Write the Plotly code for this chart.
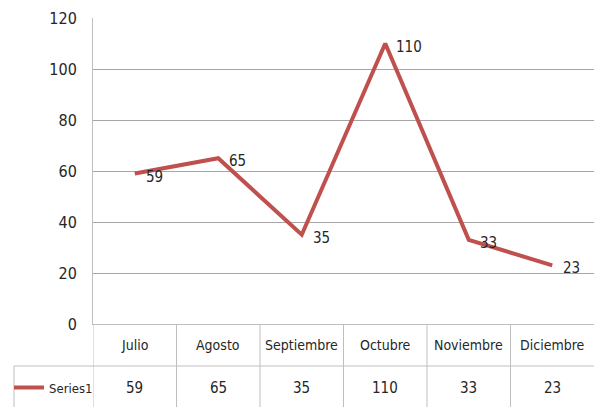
import plotly.graph_objects as go

months = ["Julio", "Agosto", "Septiembre", "Octubre", "Noviembre", "Diciembre"]
values = [59, 65, 35, 110, 33, 23]
series_name = "Series1"
y_ticks = [0, 20, 40, 60, 80, 100, 120]

FONT = "DejaVu Sans Condensed, Liberation Sans Narrow, sans-serif"
FS = 14
RED = "#C0504D"
GRID = "#A6A6A6"
TXT = "#262626"

W, H = 594, 407
ML, MR, MT, MB = 93, 0, 18, 83

fig = go.Figure()
fig.add_trace(go.Scatter(
    x=list(range(len(months))), y=values, mode="lines",
    line=dict(color=RED, width=4), name=series_name, showlegend=True,
))

# data labels
for i, v in enumerate(values):
    fig.add_annotation(x=i, y=v, text=str(v), showarrow=False,
                       xanchor="left", yanchor="middle", xshift=9, yshift=-3,
                       font=dict(family=FONT, size=FS + 1, color=TXT))

plot_h = H - MT - MB
row_h = 42
r1 = -row_h / plot_h            # bottom of category row (paper)
r2 = -(2 * row_h + 1) / plot_h  # bottom of table

# category row and value row text
for i, (m, v) in enumerate(zip(months, values)):
    fig.add_annotation(x=i, y=r1 / 2, yref="paper", yanchor="middle", text=m, showarrow=False,
                       font=dict(family=FONT, size=FS, color=TXT))
    fig.add_annotation(x=i, y=(r1 + r2) / 2, yref="paper", yanchor="middle", text=str(v),
                       showarrow=False, font=dict(family=FONT, size=FS + 1, color=TXT))

# table grid lines
xl = (14 - ML) / (W - ML)
for i in range(len(months)):
    fig.add_shape(type="line", xref="x", yref="paper", x0=i - 0.5, x1=i - 0.5,
                  y0=0, y1=r2 - 0.05, line=dict(color="#BFBFBF", width=1))
fig.add_shape(type="line", xref="paper", yref="paper", x0=xl, x1=1,
              y0=r1, y1=r1, line=dict(color="#BFBFBF", width=1))
fig.add_shape(type="line", xref="paper", yref="paper", x0=xl, x1=xl,
              y0=r1, y1=r2 - 0.05, line=dict(color="#BFBFBF", width=1))

fig.update_layout(
    width=W, height=H,
    margin=dict(l=ML, r=MR, t=MT, b=MB, autoexpand=False),
    paper_bgcolor="white", plot_bgcolor="white",
    font=dict(family=FONT, size=FS, color=TXT),
    showlegend=True,
    legend=dict(x=(9 - ML) / (W - ML), y=(r1 + r2) / 2, xanchor="left", yanchor="middle",
                bgcolor="rgba(0,0,0,0)", borderwidth=0, itemwidth=30,
                font=dict(family=FONT, size=FS - 1, color=TXT)),
    xaxis=dict(range=[-0.5, 5.5], showticklabels=False, showgrid=False, zeroline=False,
               showline=True, linecolor="#BFBFBF", linewidth=1, ticks=""),
    yaxis=dict(range=[0, 120], tickvals=y_ticks, showgrid=True, gridcolor=GRID, gridwidth=1,
               zeroline=False, showline=True, linecolor="#BFBFBF", linewidth=1,
               ticks="", ticklabelstandoff=12,
               tickfont=dict(family=FONT, size=FS + 2, color=TXT)),
)

fig.write_html("out.html", config={"displayModeBar": False},
               post_script="document.body.style.margin='0px';document.body.style.overflow='hidden';")
